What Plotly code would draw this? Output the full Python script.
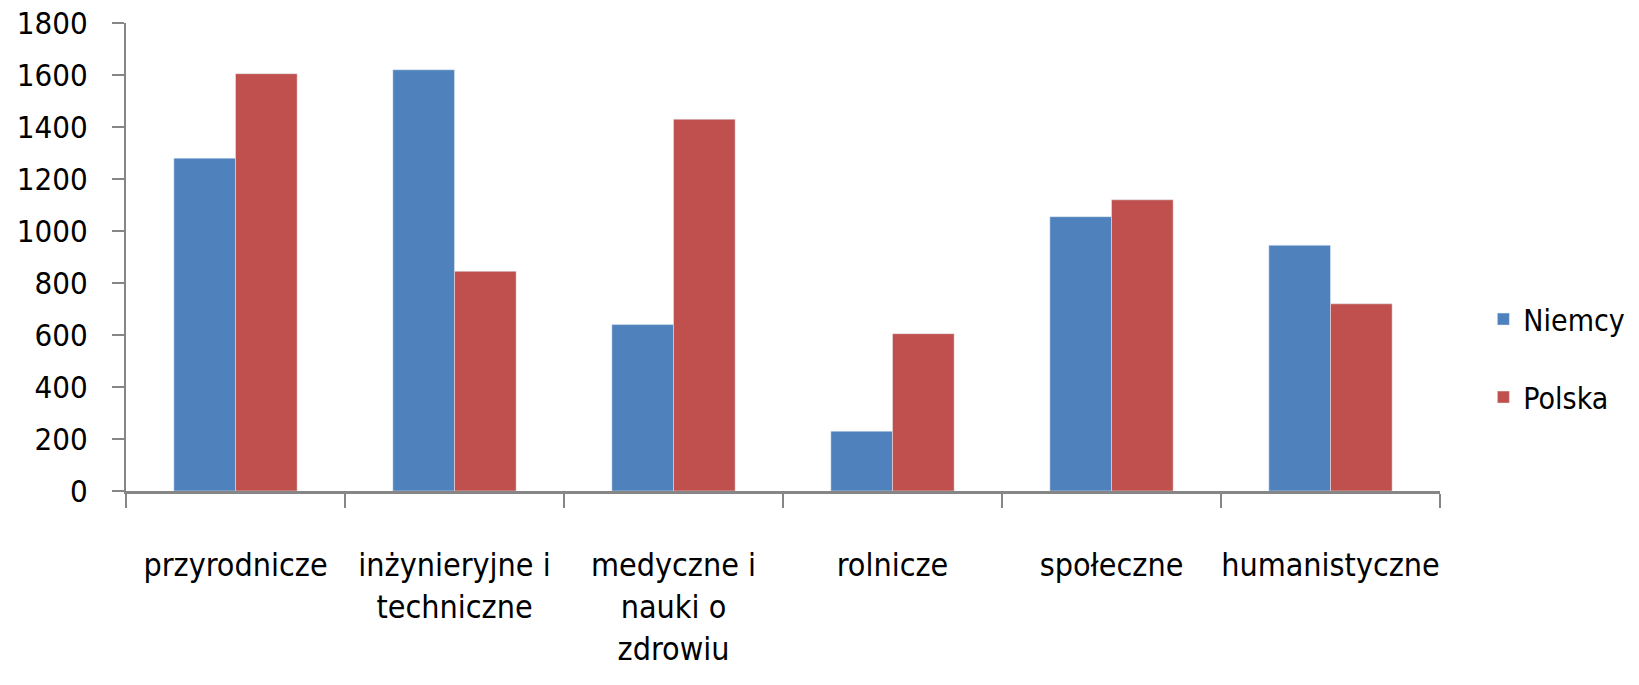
import plotly.graph_objects as go

categories = ["przyrodnicze", "inżynieryjne i<br>techniczne", "medyczne i<br>nauki o<br>zdrowiu",
              "rolnicze", "społeczne", "humanistyczne"]
niemcy = [1280, 1620, 640, 230, 1055, 945]
polska = [1605, 845, 1430, 605, 1120, 720]
y_ticks = [0, 200, 400, 600, 800, 1000, 1200, 1400, 1600, 1800]

FONT = "Liberation Sans Narrow, DejaVu Sans Condensed, Arial Narrow, sans-serif"

fig = go.Figure()
fig.add_trace(go.Bar(name="Niemcy", x=categories, y=niemcy, marker_color="#4F81BD",
                     legendgroup="a"))
fig.add_trace(go.Bar(name="Polska", x=categories, y=polska, marker_color="#C0504D",
                     legendgroup="b"))

fig.update_layout(
    width=1639, height=685,
    margin=dict(l=126, r=199, t=23, b=194, autoexpand=False),
    paper_bgcolor="white", plot_bgcolor="white",
    barmode="group", bargap=0.437, bargroupgap=0,
    font=dict(family=FONT, size=32, color="black"),
    legend=dict(x=1.033, xanchor="left", y=0.284, yanchor="middle",
                font=dict(size=30), tracegroupgap=36, bgcolor="rgba(0,0,0,0)"),
    xaxis=dict(showline=True, linecolor="#868686", linewidth=3,
               ticks="outside", tickson="boundaries", ticklen=14, tickwidth=2,
               tickcolor="#868686", showgrid=False, ticklabelstandoff=44,
               tickangle=0, automargin=False, tickfont=dict(size=32),
               ticklabeloverflow="allow"),
    yaxis=dict(range=[0, 1800], tickvals=y_ticks, showline=True, linecolor="#868686",
               linewidth=2, ticks="outside", ticklen=12, tickwidth=2,
               tickcolor="#868686", showgrid=False, zeroline=False,
               ticklabelstandoff=18, automargin=False, tickfont=dict(size=31),
               ticklabeloverflow="allow"),
)

fig.write_html("out.html", config={"displayModeBar": False},
               post_script="document.body.style.margin='0';")
